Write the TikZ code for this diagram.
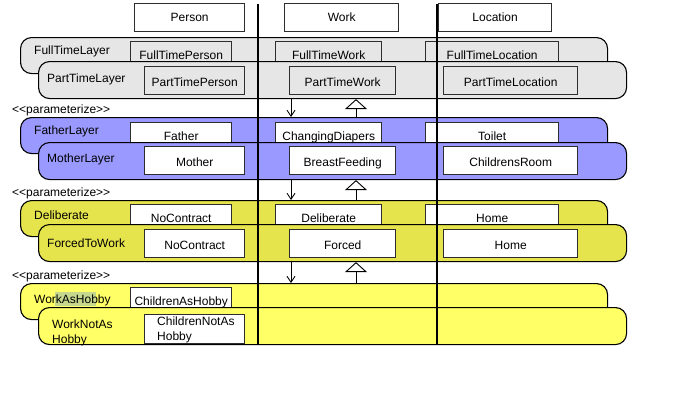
\documentclass[tikz,border=0pt]{standalone}
\usepackage{fontspec}
\setmainfont{Liberation Sans}
\usetikzlibrary{arrows.meta}
\definecolor{laygray}{RGB}{230,230,230}
\definecolor{layblue}{RGB}{153,153,255}
\definecolor{layolive}{RGB}{230,228,76}
\definecolor{layyellow}{RGB}{255,255,102}
\definecolor{hilite}{RGB}{198,216,142}
\definecolor{boxborder}{RGB}{45,45,45}
\begin{document}
\begin{tikzpicture}[x=1pt,y=-1pt,
  every node/.style={font=\fontsize{12}{15}\selectfont, text=black},
  backlayer/.style={draw=black, line width=1.1pt, rounded corners=11pt, anchor=north west, minimum width=587pt, minimum height=36pt, inner sep=0pt},
  frontlayer/.style={draw=black, line width=1.1pt, rounded corners=11pt, anchor=north west, minimum width=588pt, minimum height=37pt, inner sep=0pt},
  ibox/.style={draw=boxborder, line width=1.4pt, anchor=north west, minimum height=28pt, inner sep=0pt, text height=11pt, text depth=0pt},
  bbox/.style={ibox, text height=7.5pt},
  hbox/.style={draw=boxborder, line width=1.3pt, fill=white, anchor=north west, minimum height=28pt, inner sep=0pt, text height=8pt, text depth=0pt},
  lab/.style={anchor=base west, inner sep=0pt},
  mlab/.style={anchor=west, inner sep=0pt, align=left},
  sepline/.style={line width=2.6pt, black},
  downarrow/.style={-{Straight Barb[length=6pt,width=8pt]}, line width=0.9pt},
  inherit/.style={-{Triangle[open,length=10pt,width=22pt]}, line width=0.9pt}
]
\useasboundingbox (0,0) rectangle (700,400);

% header boxes
\node[hbox, minimum width=110pt] (person) at (134,3) {Person};
\node[hbox, minimum width=114pt] (work) at (284,3) {Work};
\node[hbox, minimum width=113pt] (location) at (438,3) {Location};

\coordinate (colA) at (291,0);
\coordinate (colB) at (356,0);

% ---------- gray layers ----------
\node[backlayer, fill=laygray] (ftl) at (20,37) {};
\node[lab] (ftllab) at (34,54) {FullTimeLayer};
\node[bbox, fill=laygray, minimum width=101pt] (ftp) at (130,41) {FullTimePerson};
\node[bbox, fill=laygray, minimum width=106pt] (ftwk) at (275,41) {FullTimeWork};
\node[bbox, fill=laygray, minimum width=133pt] (ftloc) at (425,41) {FullTimeLocation};
\node[frontlayer, fill=laygray] (ptl) at (38,61) {};
\node[lab] (ptllab) at (47,82) {PartTimeLayer};
\node[ibox, fill=laygray, minimum width=100pt] (ptp) at (144,66) {PartTimePerson};
\node[ibox, fill=laygray, minimum width=106pt] (ptwk) at (289,66) {PartTimeWork};
\node[ibox, fill=laygray, minimum width=134pt] (ptloc) at (443,66) {PartTimeLocation};

\node[lab] (par1) at (12,113) {<{}<parameterize>{}>};

% ---------- blue layers ----------
\node[backlayer, fill=layblue] (fal) at (20,117) {};
\node[lab] (fallab) at (34,134) {FatherLayer};
\node[bbox, fill=white, minimum width=101pt] (father) at (130,122) {Father};
\node[bbox, fill=white, minimum width=106pt] (diapers) at (275,122) {ChangingDiapers};
\node[bbox, fill=white, minimum width=133pt] (toilet) at (425,122) {Toilet};
\node[frontlayer, fill=layblue] (mol) at (38,142) {};
\node[lab] (mollab) at (47,162.5) {MotherLayer};
\node[ibox, fill=white, minimum width=100pt] (mother) at (144,146) {Mother};
\node[ibox, fill=white, minimum width=106pt] (breast) at (289,146) {BreastFeeding};
\node[ibox, fill=white, minimum width=134pt] (croom) at (443,146) {ChildrensRoom};

\node[lab] (par2) at (12,196) {<{}<parameterize>{}>};

% ---------- olive layers ----------
\node[backlayer, fill=layolive] (del) at (20,200) {};
\node[lab] (dellab) at (34,219) {Deliberate};
\node[bbox, fill=white, minimum width=101pt] (nocon1) at (130,204) {NoContract};
\node[bbox, fill=white, minimum width=106pt] (delw) at (275,204) {Deliberate};
\node[bbox, fill=white, minimum width=133pt] (home1) at (425,204) {Home};
\node[frontlayer, fill=layolive] (ftw) at (38,224) {};
\node[lab] (ftwlab) at (47,247) {ForcedToWork};
\node[ibox, fill=white, minimum width=100pt] (nocon2) at (144,229) {NoContract};
\node[ibox, fill=white, minimum width=106pt] (forced) at (289,229) {Forced};
\node[ibox, fill=white, minimum width=134pt] (home2) at (443,229) {Home};

\node[lab] (par3) at (12,279) {<{}<parameterize>{}>};

% ---------- yellow layers ----------
\node[backlayer, fill=layyellow] (wah) at (20,283) {};
\fill[hilite] (55,292) rectangle (96,306);
\node[lab] (wahlab) at (34,303) {WorkAsHobby};
\node[bbox, fill=white, minimum width=101pt] (cah) at (130,287) {ChildrenAsHobby};
\node[frontlayer, fill=layyellow] (wnah) at (38,307) {};
\node[mlab] (wnahlab) at (52,333) {WorkNotAs\\Hobby};
\node[ibox, fill=white, minimum width=100pt, minimum height=29pt] (cnah) at (144,314) {};
\node[mlab] (cnahtxt) at (157,330) {ChildrenNotAs\\Hobby};

% ---------- connectors ----------
\draw[downarrow] (ptl.south -| colA) -- (fal.north -| colA);
\draw[inherit] (fal.north -| colB) -- (ptl.south -| colB);
\draw[downarrow] (mol.south -| colA) -- (del.north -| colA);
\draw[inherit] (del.north -| colB) -- (mol.south -| colB);
\draw[downarrow] (ftw.south -| colA) -- (wah.north -| colA);
\draw[inherit] (wah.north -| colB) -- (ftw.south -| colB);

% ---------- separators ----------
\draw[sepline] (258,4) -- (258,345);
\draw[sepline] (437,4) -- (437,345);
\end{tikzpicture}
\end{document}
